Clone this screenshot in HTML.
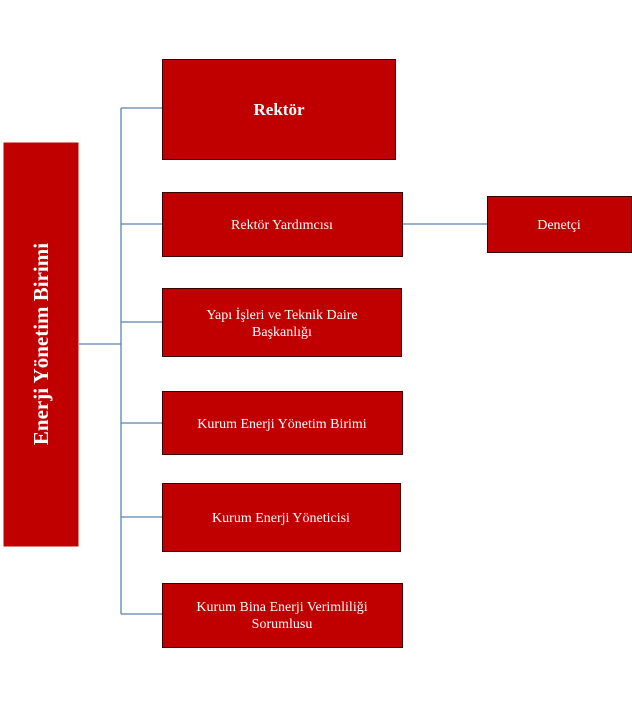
<!DOCTYPE html>
<html><head><meta charset="utf-8"><style>
body{margin:0;width:632px;height:697px;background:#fff;overflow:hidden}
svg text{font-family:"Liberation Serif",serif;fill:#fff}
</style></head><body>
<svg width="632" height="697" xmlns="http://www.w3.org/2000/svg">
<g stroke="#5b84b0" stroke-width="1.3" fill="none">
<line x1="79" y1="344" x2="121" y2="344"/>
<line x1="121" y1="108" x2="121" y2="614"/>
<line x1="121" y1="108" x2="162" y2="108"/>
<line x1="121" y1="224" x2="162" y2="224"/>
<line x1="121" y1="322" x2="162" y2="322"/>
<line x1="121" y1="423" x2="162" y2="423"/>
<line x1="121" y1="517" x2="162" y2="517"/>
<line x1="121" y1="614" x2="162" y2="614"/>
<line x1="403" y1="224" x2="487" y2="224"/>
</g>
<g fill="#c00000" stroke="#3a0000" stroke-width="1">
<rect x="3.5" y="142.5" width="75" height="404" stroke="none"/>
<rect x="162.5" y="59.5" width="233" height="100"/>
<rect x="162.5" y="192.5" width="240" height="64"/>
<rect x="487.5" y="196.5" width="144" height="56"/>
<rect x="162.5" y="288.5" width="239" height="68"/>
<rect x="162.5" y="391.5" width="240" height="63"/>
<rect x="162.5" y="483.5" width="238" height="68"/>
<rect x="162.5" y="583.5" width="240" height="64"/>
</g>
<text x="41" y="344" font-size="21" font-weight="bold" text-anchor="middle" dominant-baseline="central" transform="rotate(-90 41 344)">Enerji Yönetim Birimi</text>
<text x="279" y="115" font-size="17" font-weight="bold" text-anchor="middle">Rektör</text>
<text x="282" y="229" font-size="14" text-anchor="middle">Rektör Yardımcısı</text>
<text x="559" y="229" font-size="14" text-anchor="middle">Denetçi</text>
<text x="282" y="319" font-size="14" text-anchor="middle">Yapı İşleri ve Teknik Daire</text>
<text x="282" y="336" font-size="14" text-anchor="middle">Başkanlığı</text>
<text x="282" y="428" font-size="14" text-anchor="middle">Kurum Enerji Yönetim Birimi</text>
<text x="281" y="522" font-size="14" text-anchor="middle">Kurum Enerji Yöneticisi</text>
<text x="282" y="611" font-size="14" text-anchor="middle">Kurum Bina Enerji Verimliliği</text>
<text x="282" y="628" font-size="14" text-anchor="middle">Sorumlusu</text>
</svg>
</body></html>
